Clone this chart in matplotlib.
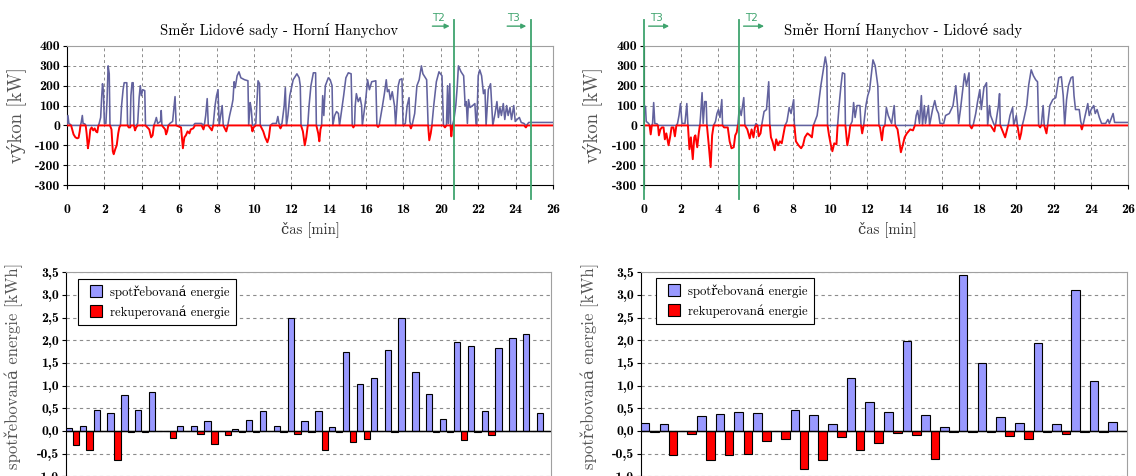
import numpy as np
import matplotlib
matplotlib.use('Agg')
import matplotlib.pyplot as plt
from matplotlib.ticker import FuncFormatter
from matplotlib.lines import Line2D

plt.rcParams['font.family'] = ['cmr10', 'DejaVu Serif']
plt.rcParams['axes.unicode_minus'] = False

# ======= data =======
# power [kW] over time [min], direction Lidove sady -> Horni Hanychov
left_t = [0.00, 0.05, 0.10, 0.18, 0.22, 0.28, 0.35, 0.45, 0.55, 0.62,
          0.68, 0.72, 0.76, 0.82, 0.86, 0.95, 1.00, 1.05, 1.12, 1.18,
          1.25, 1.32, 1.40, 1.48, 1.55, 1.62, 1.68, 1.72, 1.80, 1.86,
          1.90, 1.95, 2.00, 2.08, 2.14, 2.20, 2.26, 2.30, 2.38, 2.45,
          2.50, 2.58, 2.66, 2.74, 2.80, 2.86, 2.92, 3.00, 3.06, 3.20,
          3.24, 3.30, 3.38, 3.42, 3.48, 3.54, 3.58, 3.64, 3.70, 3.78,
          3.86, 3.92, 3.98, 4.05, 4.16, 4.20, 4.40, 4.50, 4.58, 4.65,
          4.72, 4.78, 4.85, 5.00, 5.04, 5.08, 5.25, 5.30, 5.36, 5.42,
          5.50, 5.65, 5.78, 5.84, 6.10, 6.20, 6.28, 6.36, 6.45, 6.55,
          6.62, 6.75, 6.85, 7.00, 7.20, 7.30, 7.36, 7.42, 7.50, 7.56,
          7.75, 7.82, 7.92, 8.00, 8.08, 8.14, 8.30, 8.36, 8.52, 8.60,
          8.70, 8.82, 8.88, 8.94, 9.00, 9.10, 9.20, 9.30, 9.50, 9.68,
          9.72, 9.80, 9.86, 9.92, 9.98, 10.10, 10.22, 10.30, 10.34, 10.50,
          10.60, 10.72, 10.80, 10.88, 11.00, 11.20, 11.28, 11.34, 11.42, 11.50,
          11.62, 11.68, 11.74, 11.82, 11.92, 12.10, 12.30, 12.42, 12.48, 12.52,
          12.62, 12.72, 12.80, 12.88, 12.95, 13.05, 13.18, 13.30, 13.34, 13.44,
          13.50, 13.56, 13.62, 13.68, 13.74, 13.82, 13.98, 14.08, 14.18, 14.22,
          14.32, 14.42, 14.52, 14.58, 14.80, 14.92, 15.05, 15.20, 15.26, 15.32,
          15.38, 15.42, 15.48, 15.58, 15.68, 15.76, 15.80, 15.98, 16.08, 16.18,
          16.30, 16.52, 16.58, 16.64, 16.70, 16.88, 16.98, 17.08, 17.14, 17.22,
          17.30, 17.40, 17.52, 17.58, 17.72, 17.80, 17.92, 17.98, 18.10, 18.20,
          18.30, 18.34, 18.40, 18.46, 18.60, 18.72, 18.84, 18.96, 19.04, 19.24,
          19.32, 19.38, 19.46, 19.52, 19.62, 19.76, 19.90, 20.06, 20.14, 20.22,
          20.30, 20.36, 20.40, 20.48, 20.52, 20.56, 20.62, 20.70, 20.80, 20.88,
          20.94, 21.08, 21.22, 21.30, 21.36, 21.42, 21.48, 21.56, 21.70, 21.82,
          21.88, 21.92, 22.00, 22.08, 22.18, 22.28, 22.36, 22.42, 22.54, 22.66,
          22.72, 22.78, 22.90, 23.00, 23.08, 23.16, 23.24, 23.34, 23.42, 23.52,
          23.60, 23.70, 23.78, 23.90, 23.98, 24.08, 24.20, 24.30, 24.45, 24.55,
          24.62, 24.70, 26.00]
left_p = [0, 50, 10, 5, 0, -20, -45, -60, -65, -62,
          -30, 0, 15, 50, 10, 8, 0, -40, -115, -80,
          -20, -10, -25, -15, -30, -35, 0, 10, 40, 150,
          210, 170, 10, 10, 120, 300, 260, 0, -20, -130,
          -145, -120, -100, -40, -10, 0, 100, 180, 215, 215,
          0, -10, -10, 150, 215, 215, 0, -25, -10, 10,
          140, 200, 150, 180, 175, 0, -20, -60, -50, 0,
          20, 40, 10, 20, 75, 0, -20, -45, -30, 0,
          10, 20, 145, 0, -10, -115, -60, -50, -30, -40,
          -20, -15, 10, 10, 10, -20, 10, 50, 135, 0,
          -25, 0, 100, 150, 180, 0, 100, 0, -30, 0,
          50, 100, 130, 220, 190, 250, 270, 240, 230, 225,
          0, 115, 80, -30, -10, 10, 225, 210, 0, -30,
          -60, -85, -60, 0, 10, 10, 45, 10, -15, 10,
          100, 190, 0, 50, 150, 230, 260, 240, 200, 0,
          -30, -100, -60, 0, 100, 200, 265, 265, 0, -40,
          -80, -20, 0, 150, 50, 200, 240, 230, 200, 0,
          50, 70, 60, 0, 150, 240, 265, 260, 0, -10,
          0, 100, 160, 120, 140, 100, 0, 130, 230, 180,
          220, 225, 0, -8, 0, 100, 160, 230, 170, 180,
          130, 170, 100, 0, 200, 230, 235, 0, 10, 100,
          140, 20, -15, 0, 60, 200, 230, 300, 260, 230,
          0, -75, -40, 0, 100, 220, 270, 250, 0, -10,
          0, 200, 10, 210, 0, -55, 0, 30, 100, 200,
          300, 270, 250, 100, 120, 10, 130, 90, 100, 110,
          10, 0, 250, 280, 250, 160, 180, 0, 180, 210,
          100, 0, 60, 120, 40, 90, 50, 110, 30, 100,
          50, 90, 30, 100, 20, 30, 40, 15, 10, -10,
          5, 15, 15]

# power [kW] over time [min], direction Horni Hanychov -> Lidove sady
right_t = [0.00, 0.08, 0.12, 0.25, 0.30, 0.36, 0.42, 0.46, 0.52, 0.58,
           0.70, 0.75, 0.80, 0.88, 0.96, 1.05, 1.12, 1.20, 1.32, 1.40,
           1.48, 1.58, 1.66, 1.74, 1.80, 1.88, 1.96, 2.04, 2.20, 2.30,
           2.36, 2.44, 2.52, 2.62, 2.70, 2.76, 2.86, 2.94, 3.00, 3.04,
           3.12, 3.18, 3.26, 3.34, 3.38, 3.48, 3.58, 3.66, 3.74, 3.84,
           3.92, 4.00, 4.08, 4.18, 4.22, 4.30, 4.50, 4.60, 4.70, 4.82,
           4.90, 4.98, 5.04, 5.12, 5.22, 5.36, 5.42, 5.55, 5.68, 5.78,
           5.88, 5.96, 6.02, 6.10, 6.16, 6.26, 6.32, 6.45, 6.58, 6.70,
           6.76, 6.82, 6.90, 7.02, 7.10, 7.20, 7.30, 7.40, 7.52, 7.58,
           7.68, 7.80, 7.90, 8.04, 8.08, 8.16, 8.30, 8.44, 8.54, 8.64,
           8.78, 8.92, 9.02, 9.10, 9.30, 9.50, 9.74, 9.82, 9.86, 9.94,
           10.04, 10.12, 10.22, 10.34, 10.40, 10.48, 10.58, 10.66, 10.78, 10.82,
           10.92, 11.00, 11.08, 11.18, 11.26, 11.34, 11.44, 11.60, 11.66, 11.72,
           11.80, 11.92, 12.02, 12.12, 12.30, 12.42, 12.56, 12.62, 12.68, 12.78,
           12.86, 12.94, 13.02, 13.12, 13.30, 13.44, 13.50, 13.62, 13.80, 13.90,
           14.00, 14.12, 14.30, 14.45, 14.55, 14.62, 14.70, 14.80, 14.90, 14.96,
           15.06, 15.12, 15.28, 15.34, 15.50, 15.62, 15.72, 15.82, 15.90, 16.10,
           16.20, 16.40, 16.60, 16.75, 16.84, 16.90, 17.00, 17.10, 17.22, 17.32,
           17.46, 17.50, 17.60, 17.68, 17.82, 17.92, 18.04, 18.12, 18.26, 18.40,
           18.46, 18.56, 18.62, 18.82, 18.88, 18.96, 19.04, 19.10, 19.14, 19.40,
           19.48, 19.56, 19.66, 19.80, 19.86, 20.00, 20.06, 20.18, 20.26, 20.32,
           20.40, 20.56, 20.66, 20.80, 20.92, 21.04, 21.14, 21.20, 21.28, 21.34,
           21.44, 21.50, 21.62, 21.68, 21.80, 21.96, 22.12, 22.28, 22.42, 22.52,
           22.60, 22.70, 22.80, 22.94, 23.04, 23.10, 23.18, 23.38, 23.46, 23.52,
           23.58, 23.70, 23.84, 23.92, 24.02, 24.16, 24.24, 24.34, 24.46, 24.58,
           24.80, 24.92, 25.00, 25.20, 25.28, 26.00]
right_p = [100, 95, 20, 10, 0, -45, 0, 10, 115, 10,
           8, 0, -50, -20, -10, -10, -70, -40, -100, -60,
           -10, -10, -55, 0, 10, 50, 110, 10, 10, 110,
           0, -120, -60, -170, -60, -50, -110, -40, 0, 50,
           165, 10, 120, 120, 0, -100, -210, -50, 0, 20,
           60, 80, 40, 130, 0, -10, -10, -80, -115, -110,
           -50, -35, 0, 90, 50, 140, 0, -20, -65, -20,
           -60, -10, 10, 0, -55, -40, 0, 70, 80, 220,
           0, -60, -80, -125, -70, -100, -80, -90, -30, 0,
           20, 90, 60, 130, 0, -80, -100, -115, -100, -60,
           -40, -50, -60, 0, 50, 200, 345, 300, 0, -50,
           -100, -130, -90, -95, 0, 100, 200, 265, 260, 0,
           -100, -60, 0, 20, 115, 40, 100, 100, 0, -40,
           0, 100, 150, 180, 330, 300, 200, 0, -10, -75,
           -10, 0, 90, 50, 10, 100, 0, -20, -135, -100,
           -60, -40, -20, -25, 0, 50, 75, 10, 150, 0,
           100, 10, 100, 0, 80, 125, 80, 60, 10, 10,
           50, 60, 100, 200, 100, 10, 80, 160, 260, 200,
           265, 0, -15, 0, 60, 120, 180, 80, 190, 215,
           0, 100, 50, -30, 0, 50, 100, 160, 0, -60,
           -30, 0, 50, 90, 0, 50, 0, -70, -40, 0,
           30, 100, 200, 280, 250, 230, 220, 0, -10, 0,
           100, 0, -40, 0, 100, 130, 140, 240, 245, 150,
           0, 130, 200, 240, 245, 150, 80, 80, 20, -20,
           0, 50, 110, 50, 80, 100, 60, 80, 40, 10,
           10, 30, 10, 60, 15, 15]

# energy per section [kWh]
left_used = [0.06, 0.10, 0.46, 0.39, 0.80, 0.46, 0.87, 0.00, 0.10, 0.12,
             0.22, 0.00, 0.04, 0.24, 0.44, 0.10, 2.50, 0.22, 0.44, 0.08,
             1.74, 1.04, 1.17, 1.78, 2.49, 1.30, 0.81, 0.26, 1.96, 1.87,
             0.44, 1.83, 2.04, 2.13, 0.39]
left_recup = [-0.31, -0.41, 0.00, -0.63, -0.02, -0.02, 0.00, -0.15, 0.00, -0.07,
              -0.28, -0.08, -0.02, -0.02, 0.00, -0.03, -0.07, -0.02, -0.43, -0.02,
              -0.24, -0.17, 0.00, -0.02, 0.00, 0.00, -0.02, -0.02, -0.19, -0.02,
              -0.09, 0.00, 0.00, 0.00, 0.00]
right_used = [0.17, 0.15, 0.00, 0.32, 0.37, 0.42, 0.39, 0.00, 0.46, 0.35,
              0.15, 1.17, 0.63, 0.41, 1.98, 0.35, 0.09, 3.44, 1.50, 0.31,
              0.17, 1.94, 0.15, 3.11, 1.11, 0.20]
right_recup = [-0.03, -0.52, -0.06, -0.63, -0.54, -0.50, -0.22, -0.18, -0.83, -0.64,
               -0.14, -0.42, -0.26, -0.05, -0.09, -0.61, -0.02, -0.02, -0.03, -0.11,
               -0.18, -0.02, -0.07, -0.02, -0.02, 0.00]

W, H = 1136, 476
blue_line = '#62629E'
green = '#3FA46E'
grid_c = '#8C8C8C'
frame_c = '#A0A0A0'
tick_font = 'cmb10'


def px_axes(fig, x0, x1, ytop, ybot):
    return fig.add_axes([x0 / W, 1 - ybot / H, (x1 - x0) / W, (ybot - ytop) / H])


def power_panel(ax, t, p):
    t = np.asarray(t, dtype=float)
    p = np.asarray(p, dtype=float)
    ax.plot(t, np.maximum(p, 0), color=blue_line, lw=1.15, zorder=3)
    ax.plot(t, np.minimum(p, 0), color='#FF0000', lw=1.4, zorder=4)
    ax.set_xlim(0, 26)
    ax.set_ylim(-300, 400)
    ax.set_xticks(range(0, 27, 2))
    ax.set_yticks(range(-300, 401, 100))
    ax.grid(True, color=grid_c, linestyle=(0, (3, 3)), lw=0.7)
    ax.tick_params(axis='x', direction='out', length=3, pad=11, labelsize=10,
                   labelfontfamily=tick_font)
    ax.tick_params(axis='y', direction='out', length=3, pad=2, labelsize=10,
                   labelfontfamily=tick_font)
    ax.spines['top'].set_color(frame_c)
    ax.spines['right'].set_color(frame_c)


def marker(ax, x, label, x_from, x_to):
    ax.plot([x, x], [-370, 530], color=green, lw=1.3, clip_on=False, zorder=6)
    ax.annotate('', xy=(x_to, 500), xytext=(x_from, 500), annotation_clip=False,
                arrowprops=dict(arrowstyle='-|>', color=green, lw=1.0, mutation_scale=7))
    ax.text((x_from + x_to) / 2 - 0.15, 515, label, color=green, fontsize=7.5,
            family='DejaVu Sans', ha='center', va='bottom', clip_on=False)


def energy_panel(ax, used, recup, anchor):
    n = len(used)
    x = np.arange(n)
    ax.bar(x + 0.01, used, width=0.46, align='edge', color='#9999FF',
           edgecolor='black', lw=0.8, zorder=3)
    ax.bar(x + 0.50, recup, width=0.46, align='edge', color='#FF0000',
           edgecolor='black', lw=0.8, zorder=3)
    ax.axhline(0, color='black', lw=1.0, zorder=4)
    ax.set_xlim(0, n)
    ax.set_ylim(-1.0, 3.5)
    ax.set_yticks(np.arange(-1.0, 3.51, 0.5))
    ax.yaxis.set_major_formatter(FuncFormatter(lambda v, pos: f'{v:.1f}'.replace('.', ',')))
    ax.set_xticks([])
    ax.yaxis.grid(True, color=grid_c, linestyle=(0, (3, 3)), lw=0.8)
    ax.tick_params(axis='y', direction='out', length=3, pad=2, labelsize=10,
                   labelfontfamily=tick_font)
    ax.spines['top'].set_color(frame_c)
    ax.spines['right'].set_color(frame_c)
    ax.spines['bottom'].set_visible(False)
    handles = [Line2D([], [], linestyle='none', marker='s', markersize=8,
                      markerfacecolor='#9999FF', markeredgecolor='black', markeredgewidth=0.8),
               Line2D([], [], linestyle='none', marker='s', markersize=8,
                      markerfacecolor='#FF0000', markeredgecolor='black', markeredgewidth=0.8)]
    leg = ax.legend(handles, ['spotřebovaná energie', 'rekuperovaná energie'],
                    loc='upper left', bbox_to_anchor=anchor, borderaxespad=0,
                    fontsize=9.2, handlelength=1.9, handletextpad=0.15,
                    borderpad=0.5, labelspacing=0.5,
                    fancybox=False, edgecolor='black', framealpha=1)
    leg.get_frame().set_linewidth(0.8)
    ax.set_axisbelow(True)


fig = plt.figure(figsize=(W / 100, H / 100), dpi=100)

ax_tl = px_axes(fig, 67, 553, 46, 185)
power_panel(ax_tl, left_t, left_p)
marker(ax_tl, 20.7, 'T2', 19.4, 20.62)
marker(ax_tl, 24.8, 'T3', 23.4, 24.72)

ax_tr = px_axes(fig, 644, 1128, 46, 185)
power_panel(ax_tr, right_t, right_p)
marker(ax_tr, 0.0, 'T3', 0.1, 1.5)
marker(ax_tr, 5.1, 'T2', 5.2, 6.6)

fig.text(279 / W, 1 - 31 / H, 'Směr Lidové sady - Horní Hanychov', ha='center', va='center',
         fontsize=10.5)
fig.text(903 / W, 1 - 31 / H, 'Směr Horní Hanychov - Lidové sady', ha='center', va='center',
         fontsize=10.5)
for xc in (16, 592):
    fig.text(xc / W, 1 - 115 / H, 'výkon [kW]', rotation=90, ha='center', va='center',
             fontsize=13.5, color='#555555')
fig.text(310 / W, 1 - 229 / H, 'čas [min]', ha='center', va='center', fontsize=10.5, color='#333333')
fig.text(887 / W, 1 - 229 / H, 'čas [min]', ha='center', va='center', fontsize=10.5, color='#333333')

ax_bl = px_axes(fig, 65.7, 550.7, 272.3, 476.3)
energy_panel(ax_bl, left_used, left_recup, (0.025, 0.967))
ax_br = px_axes(fig, 640.7, 1127, 272.3, 476.3)
energy_panel(ax_br, right_used, right_recup, (0.031, 0.972))
for xc in (14, 590):
    fig.text(xc / W, 1 - 366 / H, 'spotřebovaná energie [kWh]', rotation=90, ha='center',
             va='center', fontsize=12, color='#555555')

fig.savefig('out.png', dpi=100)
